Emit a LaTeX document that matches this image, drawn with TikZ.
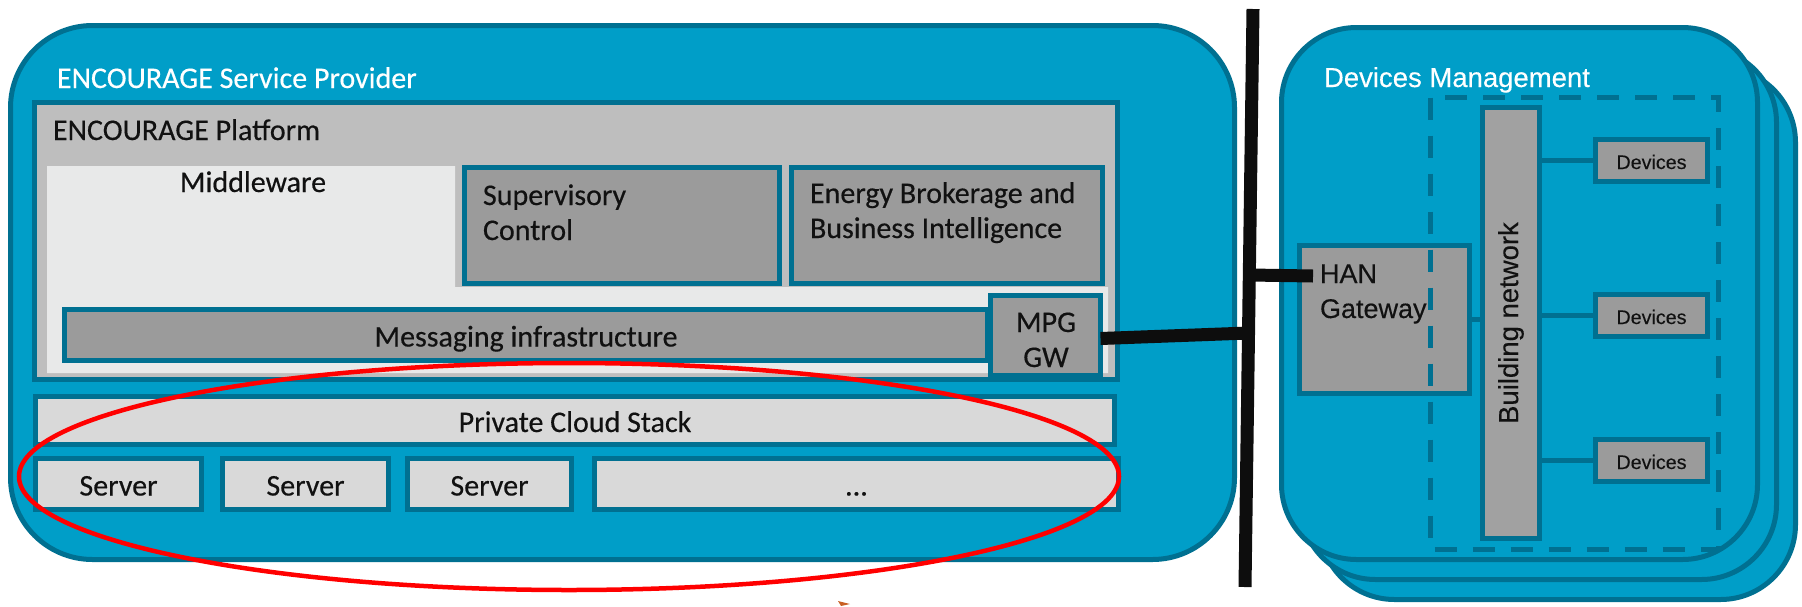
\documentclass[tikz,border=0pt]{standalone}
\usepackage{fontspec}
\setmainfont{Carlito}[FakeBold=0.4]
\newfontfamily\arialf{Liberation Sans}[FakeBold=0.25]
\usetikzlibrary{calc}

\definecolor{spblue}{RGB}{0,158,200}
\definecolor{spteal}{RGB}{0,112,145}
\definecolor{platgray}{RGB}{190,190,190}
\definecolor{mwlight}{RGB}{232,233,233}
\definecolor{boxgray}{RGB}{155,155,155}
\definecolor{bargray}{RGB}{161,161,161}
\definecolor{cloudgray}{RGB}{217,217,217}
\definecolor{linkblack}{RGB}{13,13,13}
\definecolor{textblack}{RGB}{17,17,17}
\definecolor{markorange}{RGB}{200,95,35}
\definecolor{ringred}{RGB}{255,0,0}

\newcommand{\twoln}[2]{\vtop{\hbox{#1}\hbox{#2}}}
\newcommand{\twolnc}[3]{\vtop{\hbox to #1pt{\hss#2\hss}\hbox to #1pt{\hss#3\hss}}}

\begin{document}
\begin{tikzpicture}[x=1pt,y=-1pt,
  every node/.style={inner sep=0pt, outer sep=0pt},
  tealbox/.style={draw=spteal, line width=5pt, rectangle},
  darkbox/.style={tealbox, fill=boxgray},
  lightbox/.style={tealbox, fill=cloudgray},
  card/.style={tealbox, fill=spblue, rounded corners=75pt, minimum width=476pt, minimum height=532pt},
  maintext/.style={font=\fontsize{30}{35}\selectfont, text=textblack},
  boxtext/.style={maintext, text height=23pt, text depth=0pt},
  righttext/.style={font=\arialf\fontsize{27}{35}\selectfont, text=textblack},
  devtext/.style={font=\arialf\fontsize{19.7}{24}\selectfont, text=textblack, text height=17pt, text depth=0pt},
  thinlink/.style={draw=spteal, line width=5pt},
  blacklink/.style={draw=linkblack, line width=13pt},
]
\useasboundingbox (0,0) rectangle (1802,606);

% ---------------- left: service provider ----------------
\node[tealbox, fill=spblue, rounded corners=82pt, minimum width=1224pt, minimum height=534pt] (sp) at (622.5,292.5) {};
\node[anchor=base west, font=\fontsize{30}{36}\selectfont, text=white] (sptitle) at (57,88) {ENCOURAGE Service Provider};

\node[tealbox, fill=platgray, minimum width=1083pt, minimum height=277pt] (plat) at (576,241) {};
\node[maintext, anchor=base west] (plattitle) at (53,140) {ENCOURAGE Platform};

% middleware light area (L shape)
\fill[mwlight] (47,166) -- (455,166) -- (455,287) -- (1108,287) -- (1108,373) -- (47,373) -- cycle;
\node[maintext, anchor=base] (mwtitle) at (253,192) {Middleware};

\node[darkbox, minimum width=315pt, minimum height=116pt] (sup) at (622,225.5) {};
\node[maintext, anchor=base west] (suptext) at (483,205) {\twoln{Supervisory}{Control}};

\node[darkbox, minimum width=311pt, minimum height=116pt] (ebi) at (947,225.5) {};
\node[maintext, anchor=base west] (ebitext) at (810,203) {\twoln{Energy Brokerage and}{Business Intelligence}};

\node[darkbox, boxtext, minimum width=923pt, minimum height=51pt] (msg) at (526,335) {Messaging infrastructure};
\node[darkbox, minimum width=110pt, minimum height=80pt] (mpg) at (1045.5,335.5) {};
\node[maintext, anchor=base] (mpgtext) at (1046,332) {\twolnc{70}{MPG}{GW}};

\node[lightbox, boxtext, minimum width=1079pt, minimum height=48pt] (cloud) at (575,420.5) {Private Cloud Stack};
\node[lightbox, boxtext, minimum width=166pt, minimum height=51pt] (s1) at (118.5,484) {Server};
\node[lightbox, boxtext, minimum width=166pt, minimum height=51pt] (s2) at (305.5,484) {Server};
\node[lightbox, boxtext, minimum width=164pt, minimum height=51pt] (s3) at (489.5,484) {Server};
\node[lightbox, boxtext, minimum width=524pt, minimum height=51pt] (sn) at (856.5,484) {...};

% ---------------- right: devices management ----------------
\node[card] (card3) at (1557.5,333.5) {};
\node[card] (card2) at (1538.5,313.5) {};
\node[card] (card1) at (1519.5,293.5) {};
\node[anchor=base west, font=\arialf\fontsize{27.5}{33}\selectfont, text=white] (dmtitle) at (1324,87) {Devices Management};

\node[darkbox, minimum width=170pt, minimum height=148pt] (han) at (1384.5,319.5) {};
\node[righttext, anchor=base west] (hantext) at (1320,283) {\twoln{HAN}{Gateway}};

\draw[spteal, line width=5pt, dash pattern=on 22pt off 16pt] (1430.5,97.5) rectangle (1718.5,549.5);

\node[tealbox, fill=bargray, minimum width=57pt, minimum height=431pt] (bar) at (1511,323) {};
\node[font=\arialf\fontsize{27.5}{33}\selectfont, text=textblack, rotate=90] (bartext) at (bar.center) {Building network};

\node[darkbox, devtext, minimum width=112pt, minimum height=42pt] (d1) at (1651.5,160.5) {Devices};
\node[darkbox, devtext, minimum width=112pt, minimum height=42pt] (d2) at (1651.5,315.5) {Devices};
\node[darkbox, devtext, minimum width=112pt, minimum height=42pt] (d3) at (1651.5,460.5) {Devices};

\draw[thinlink] (han.east) -- (bar.west |- han.east);
\draw[thinlink] (bar.east |- d1.west) -- (d1.west);
\draw[thinlink] (bar.east |- d2.west) -- (d2.west);
\draw[thinlink] (bar.east |- d3.west) -- (d3.west);

% ---------------- black links ----------------
\coordinate (vtop) at (1253,9);
\coordinate (vbot) at (1245,587);
\coordinate (jm) at (1248.5,333);
\coordinate (jh) at (1250,275);
\coordinate (hanin) at (1313,276);
\draw[blacklink] (vtop) -- (vbot);
\draw[blacklink] ($(mpg.east)+(0,3)$) -- (jm);
\draw[blacklink] (jh) -- (hanin);

% ---------------- red ring and mark ----------------
\draw[ringred, line width=4.5pt] (569,476.5) ellipse [x radius=550, y radius=113.5];
\fill[markorange] (838,601) -- (850,604) -- (841,606) -- cycle;
\end{tikzpicture}
\end{document}
